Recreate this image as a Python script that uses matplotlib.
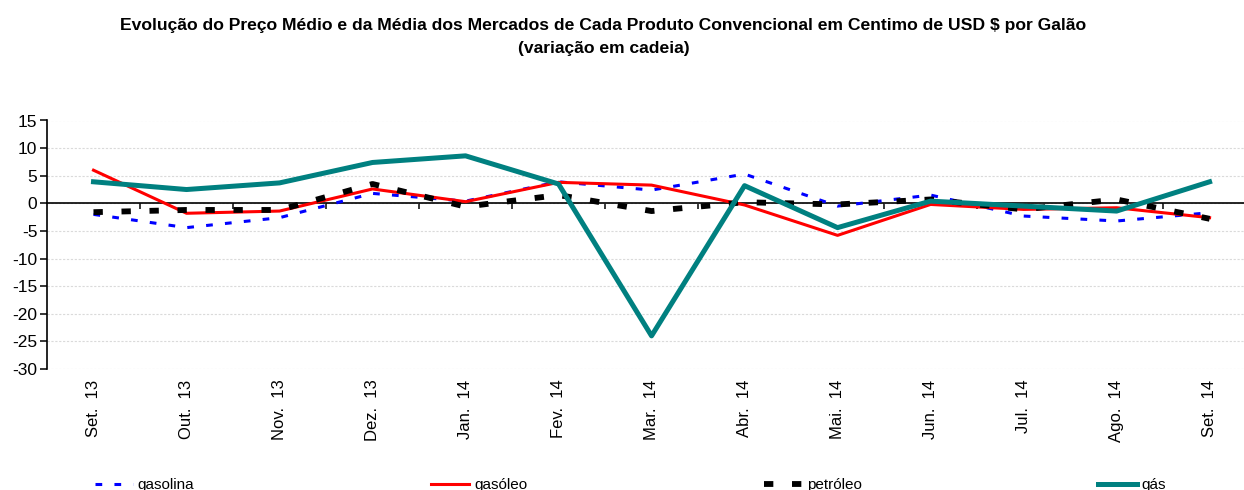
import matplotlib
matplotlib.use("Agg")
import matplotlib.pyplot as plt
import numpy as np

months = ["Set.  13", "Out.  13", "Nov.  13", "Dez.  13", "Jan.  14", "Fev.  14", "Mar.  14",
          "Abr.  14", "Mai.  14", "Jun.  14", "Jul.  14", "Ago.  14", "Set.  14"]
gasolina = [-2.0, -4.4, -2.6, 1.8, 0.4, 3.9, 2.4, 5.3, -0.5, 1.5, -2.3, -3.2, -1.7]
gasoleo = [6.0, -1.8, -1.4, 2.6, 0.3, 3.8, 3.3, -0.3, -5.8, -0.2, -1.1, -0.8, -2.6]
petroleo = [-1.6, -1.2, -1.2, 3.5, -0.6, 1.5, -1.4, 0.2, -0.2, 0.7, -1.1, 0.7, -2.8]
gas = [3.9, 2.5, 3.7, 7.4, 8.6, 3.5, -24.0, 3.2, -4.4, 0.4, -0.5, -1.4, 3.9]

title = ("Evolução do Preço Médio e da Média dos Mercados de Cada Produto Convencional "
         "em Centimo de USD $ por Galão\n(variação em cadeia)")

plt.rcParams["font.family"] = ["Liberation Sans", "DejaVu Sans"]
plt.rcParams["axes.unicode_minus"] = False

W, H = 1244, 490
fig = plt.figure(figsize=(W / 100, H / 100), dpi=100)
# axes box in pixels: left 47, right 1244, top 120.5, bottom 369
ax = fig.add_axes([47 / W, (H - 369) / H, (1244 - 47) / W, (369 - 120.5) / H])

x = np.arange(len(months))
ax.plot(x, gasolina, color="#0000ff", lw=2.2, linestyle=(0, (2.2, 4.0)),
        dash_capstyle="butt", label="gasolina", zorder=3)
ax.plot(x, gasoleo, color="#ff0000", lw=2.2, label="gasóleo", zorder=3)
ax.plot(x, petroleo, color="black", lw=4.2, linestyle=(0, (1.6, 3.2)),
        dash_capstyle="butt", label="petróleo", zorder=3)
ax.plot(x, gas, color="#008080", lw=3.6, label="gás", zorder=4)

ax.set_xlim(-0.5, 12.37)
ax.set_ylim(-30, 15)
ax.set_yticks(np.arange(-30, 16, 5))
ax.yaxis.grid(True, color="#dadada", linestyle=(0, (2, 1.5)), lw=0.8)
ax.set_axisbelow(True)

for s in ["top", "right"]:
    ax.spines[s].set_visible(False)
ax.spines["left"].set_linewidth(1.2)
ax.spines["bottom"].set_position(("data", 0))
ax.spines["bottom"].set_linewidth(1.2)

ax.set_xticks(x)
ax.set_xticklabels(months, rotation=90, fontsize=12, va="top")
ax.set_xticks(x[:-1] + 0.5, minor=True)
ax.tick_params(axis="x", which="major", length=0, pad=127)
ax.tick_params(axis="x", which="minor", length=4.5, width=1.1, direction="out")
ax.tick_params(axis="y", length=5, width=1.1, direction="out", pad=2, labelsize=12.5)

fig.text(0.485, 1 - 37 / H, title, ha="center", va="center", fontsize=12.6,
         fontweight="bold", linespacing=1.7)

fig.legend(loc="center left", bbox_to_anchor=(95 / W, 1 - 485 / H), ncol=4, frameon=False,
           prop={"size": 11}, handlelength=2.5, handletextpad=0.3,
           columnspacing=15.5, borderaxespad=0, borderpad=0)

fig.savefig("out.png", dpi=100)
